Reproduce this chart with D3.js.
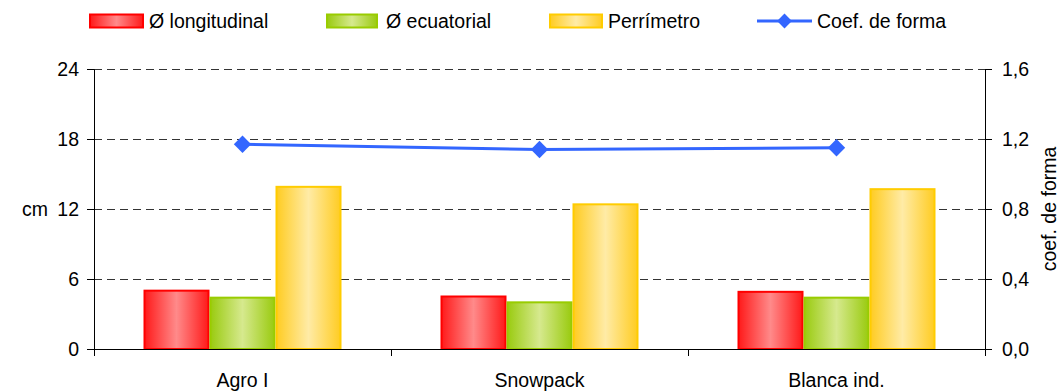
<!DOCTYPE html>
<html>
<head>
<meta charset="utf-8">
<script src="https://cdn.jsdelivr.net/npm/d3@7"></script>
<style>
  body { margin: 0; background: #fff; }
  svg { display: block; font-family: "Liberation Sans", Arial, sans-serif; }
</style>
</head>
<body>
<svg id="chart" width="1064" height="392"></svg>
<script>
// Fruit size measurements per variety
const categories = ["Agro I", "Snowpack", "Blanca ind."];
const longitudinal = [5.0, 4.5, 4.9];
const ecuatorial = [4.4, 4.0, 4.4];
const perimetro = [13.9, 12.4, 13.7];
const coefForma = [1.17, 1.14, 1.15];
const leftTicks = [0, 6, 12, 18, 24];
const rightTicks = [0, 0.4, 0.8, 1.2, 1.6];
const seriesNames = ["Ø longitudinal", "Ø ecuatorial", "Perrímetro", "Coef. de forma"];

const svg = d3.select("#chart");
const FS = 19.5;
const FONT = "'Liberation Sans', Arial, sans-serif";
const margin = { left: 94, right: 79, top: 69, bottom: 43 };
const W = 1064, H = 392;
const x0 = margin.left, x1 = W - margin.right;
const yTop = margin.top, yBot = H - margin.bottom;

const x = d3.scaleBand().domain(categories).range([x0, x1]).paddingInner(0).paddingOuter(0);
const yL = d3.scaleLinear().domain([0, 24]).range([yBot, yTop]);
const yR = d3.scaleLinear().domain([0, 1.6]).range([yBot, yTop]);

const barSeries = [
  { name: seriesNames[0], values: longitudinal, edge: "#ff1a1a", mid: "#ff8a8a", stroke: "#ff0000" },
  { name: seriesNames[1], values: ecuatorial, edge: "#9acb10", mid: "#d6e98e", stroke: "#99cc00" },
  { name: seriesNames[2], values: perimetro, edge: "#ffcc22", mid: "#ffeba6", stroke: "#ffcc00" }
];

// Horizontal gradients: saturated edges, pale centre
const defs = svg.append("defs");
barSeries.forEach((s, i) => {
  const g = defs.append("linearGradient").attr("id", "grad" + i)
    .attr("x1", "0%").attr("x2", "100%").attr("y1", "0%").attr("y2", "0%");
  g.append("stop").attr("offset", "0%").attr("stop-color", s.edge);
  g.append("stop").attr("offset", "50%").attr("stop-color", s.mid);
  g.append("stop").attr("offset", "100%").attr("stop-color", s.edge);
});

// Gridlines
svg.append("g").selectAll("line").data(leftTicks.filter(d => d > 0)).join("line")
  .attr("x1", x0).attr("x2", x1)
  .attr("y1", d => yL(d) + 0.5).attr("y2", d => yL(d) + 0.5)
  .attr("stroke", "#333").attr("stroke-width", 1).attr("stroke-dasharray", "8,5");

// Bars
const groupPad = 49.5;
const inner = d3.scaleBand().domain(d3.range(barSeries.length))
  .range([0, x.bandwidth() - 2 * groupPad]).padding(0);

barSeries.forEach((s, i) => {
  svg.append("g").selectAll("rect").data(categories).join("rect")
    .attr("x", c => x(c) + groupPad + inner(i) + 1)
    .attr("width", inner.bandwidth() - 2)
    .attr("y", (c, k) => yL(s.values[k]))
    .attr("height", (c, k) => yBot - yL(s.values[k]))
    .attr("fill", `url(#grad${i})`)
    .attr("stroke", s.stroke).attr("stroke-width", 2);
});

// Axes
const axisColor = "#000";
const leftAxis = svg.append("g").attr("transform", `translate(${x0},0)`)
  .call(d3.axisLeft(yL).tickValues(leftTicks).tickSize(7).tickPadding(8));
const rightAxis = svg.append("g").attr("transform", `translate(${x1},0)`)
  .call(d3.axisRight(yR).tickValues(rightTicks).tickSize(7).tickPadding(10)
    .tickFormat(d => d3.format(".1f")(d).replace(".", ",")));
const bottomAxis = svg.append("g").attr("transform", `translate(0,${yBot})`)
  .call(d3.axisBottom(x).tickSize(0).tickPadding(24));

[leftAxis, rightAxis, bottomAxis].forEach(a => {
  a.select(".domain").attr("stroke", axisColor).attr("stroke-width", 1);
  a.selectAll(".tick line").attr("stroke", axisColor);
  a.selectAll("text").attr("fill", "#000").attr("font-size", FS).attr("font-family", FONT);
});
bottomAxis.select(".domain").attr("d", `M${x0},0.5H${x1}`);
bottomAxis.selectAll(".tick text").attr("dy", "0.71em");

// Category boundary ticks below the x axis
const bounds = [x0].concat(categories.map(c => x(c) + x.bandwidth()));
svg.append("g").selectAll("line").data(bounds).join("line")
  .attr("x1", d => Math.round(d) + 0.5).attr("x2", d => Math.round(d) + 0.5)
  .attr("y1", yBot).attr("y2", yBot + 7)
  .attr("stroke", axisColor);

// Shape coefficient line on the secondary axis
const lineColor = "#3366ff";
const pts = categories.map((c, k) => [x(c) + x.bandwidth() / 2, yR(coefForma[k])]);
svg.append("path").datum(pts)
  .attr("d", d3.line())
  .attr("fill", "none").attr("stroke", lineColor).attr("stroke-width", 3);
svg.append("g").selectAll("path").data(pts).join("path")
  .attr("transform", d => `translate(${d[0]},${d[1]}) rotate(45)`)
  .attr("d", d3.symbol().type(d3.symbolSquare).size(150))
  .attr("fill", lineColor);

// Axis titles
svg.append("text").attr("x", 35).attr("y", 209).attr("dy", "0.35em")
  .attr("text-anchor", "middle").attr("font-size", FS).text("cm");
svg.append("text").attr("transform", `translate(1049,209) rotate(-90)`)
  .attr("dy", "0.35em").attr("text-anchor", "middle").attr("font-size", FS)
  .text("coef. de forma");

// Legend
const legendY = 21;
const legendItems = [
  { x: 89, w: 55, tx: 149, type: "bar", i: 0 },
  { x: 326, w: 52, tx: 386, type: "bar", i: 1 },
  { x: 549, w: 54, tx: 608, type: "bar", i: 2 },
  { x: 757, w: 55, tx: 817, type: "line" }
];
const lg = svg.append("g");
legendItems.forEach((it, k) => {
  if (it.type === "bar") {
    const s = barSeries[it.i];
    lg.append("rect").attr("x", it.x + 1).attr("y", legendY - 6.5).attr("width", it.w - 2).attr("height", 13)
      .attr("fill", `url(#grad${it.i})`).attr("stroke", s.stroke).attr("stroke-width", 2);
  } else {
    lg.append("line").attr("x1", it.x).attr("x2", it.x + it.w)
      .attr("y1", legendY).attr("y2", legendY)
      .attr("stroke", lineColor).attr("stroke-width", 3);
    lg.append("path").attr("transform", `translate(${it.x + it.w / 2},${legendY}) rotate(45)`)
      .attr("d", d3.symbol().type(d3.symbolSquare).size(110)).attr("fill", lineColor);
  }
  lg.append("text").attr("x", it.tx).attr("y", legendY).attr("dy", "0.35em")
    .attr("font-size", FS).text(seriesNames[k]);
});
</script>
</body>
</html>
